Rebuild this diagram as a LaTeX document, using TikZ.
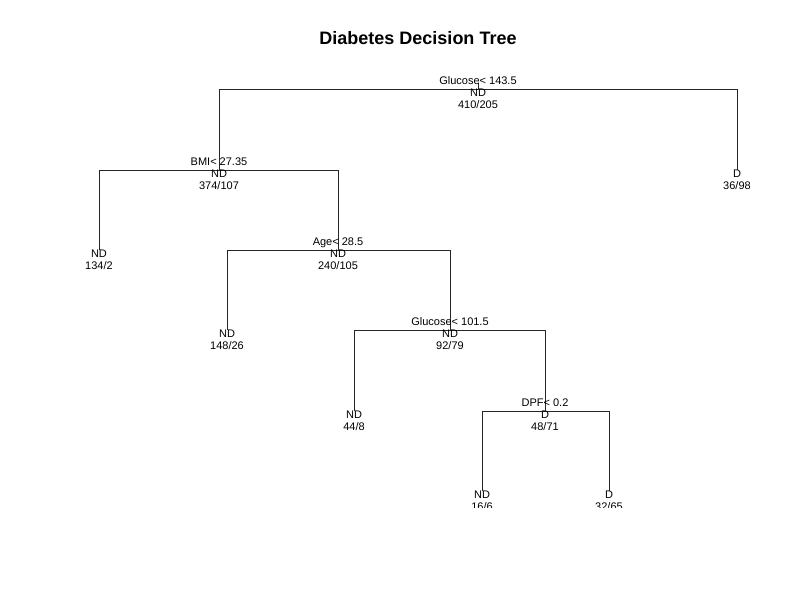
\documentclass[tikz,border=0pt]{standalone}
\usepackage{fontspec}
\setmainfont{Liberation Sans}
\begin{document}
\begin{tikzpicture}[x=1pt,y=-1pt,
  branch/.style={line width=0.8pt,black!85},
  lbl/.style={inner sep=0pt,anchor=base,font=\fontsize{11}{11}\selectfont,text=black},
  ttl/.style={inner sep=0pt,anchor=base,font=\fontsize{18}{18}\selectfont\bfseries}]
\useasboundingbox[fill=white] (0,0) rectangle (800,600);
\node[ttl] (title) at (418,44) {Diabetes Decision Tree};
\begin{scope}
\clip (0,0) rectangle (800,507);
% node positions of the tree
\coordinate (top) at (478,83);
\coordinate (n1) at (478,89);
\coordinate (n2) at (219,170);
\coordinate (n3) at (737,170);
\coordinate (n4) at (99,250);
\coordinate (n5) at (338,250);
\coordinate (n10) at (227,330);
\coordinate (n11) at (450,330);
\coordinate (n22) at (354,411);
\coordinate (n23) at (545,411);
\coordinate (n46) at (482,491);
\coordinate (n47) at (609,491);
% branches
\draw[branch] (top) -- (n1);
\draw[branch] (n2) -- (n2 |- n1) -- (n3 |- n1) -- (n3);
\draw[branch] (n4) -- (n4 |- n2) -- (n5 |- n2) -- (n5);
\draw[branch] (n10) -- (n10 |- n5) -- (n11 |- n5) -- (n11);
\draw[branch] (n22) -- (n22 |- n11) -- (n23 |- n11) -- (n23);
\draw[branch] (n46) -- (n46 |- n23) -- (n47 |- n23) -- (n47);
% labels: split rule above the node, class and counts below
\node[lbl] (n1s) at ([yshift=5]n1) {Glucose< 143.5};
\node[lbl] (n1c) at ([yshift=-7]n1) {ND};
\node[lbl] (n1n) at ([yshift=-19]n1) {410/205};
\node[lbl] (n2s) at ([yshift=5]n2) {BMI< 27.35};
\node[lbl] (n2c) at ([yshift=-7]n2) {ND};
\node[lbl] (n2n) at ([yshift=-19]n2) {374/107};
\node[lbl] (n3c) at ([yshift=-7]n3) {D};
\node[lbl] (n3n) at ([yshift=-19]n3) {36/98};
\node[lbl] (n4c) at ([yshift=-7]n4) {ND};
\node[lbl] (n4n) at ([yshift=-19]n4) {134/2};
\node[lbl] (n5s) at ([yshift=5]n5) {Age< 28.5};
\node[lbl] (n5c) at ([yshift=-7]n5) {ND};
\node[lbl] (n5n) at ([yshift=-19]n5) {240/105};
\node[lbl] (n10c) at ([yshift=-7]n10) {ND};
\node[lbl] (n10n) at ([yshift=-19]n10) {148/26};
\node[lbl] (n11s) at ([yshift=5]n11) {Glucose< 101.5};
\node[lbl] (n11c) at ([yshift=-7]n11) {ND};
\node[lbl] (n11n) at ([yshift=-19]n11) {92/79};
\node[lbl] (n22c) at ([yshift=-7]n22) {ND};
\node[lbl] (n22n) at ([yshift=-19]n22) {44/8};
\node[lbl] (n23s) at ([yshift=5]n23) {DPF< 0.2};
\node[lbl] (n23c) at ([yshift=-7]n23) {D};
\node[lbl] (n23n) at ([yshift=-19]n23) {48/71};
\node[lbl] (n46c) at ([yshift=-7]n46) {ND};
\node[lbl] (n46n) at ([yshift=-19]n46) {16/6};
\node[lbl] (n47c) at ([yshift=-7]n47) {D};
\node[lbl] (n47n) at ([yshift=-19]n47) {32/65};
\end{scope}
\end{tikzpicture}
\end{document}
